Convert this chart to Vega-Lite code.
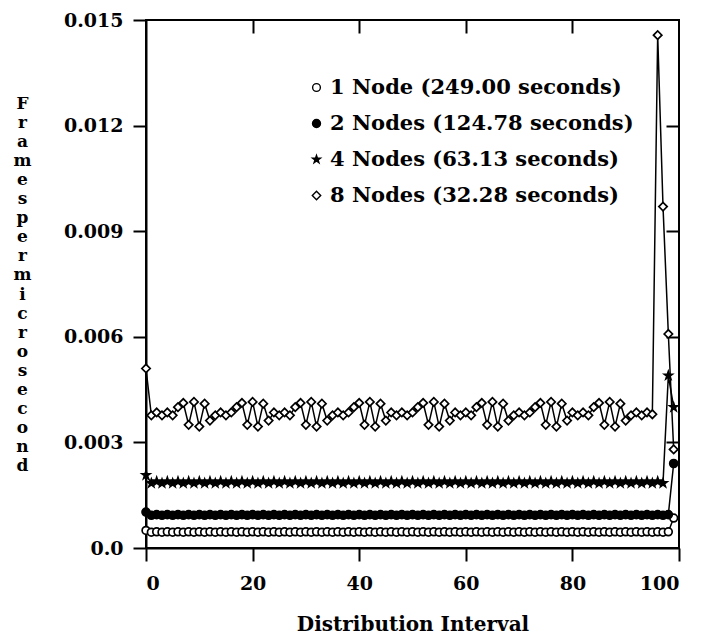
{
"$schema":"https://vega.github.io/schema/vega-lite/v6.json",
"width":533,"height":528,
"autosize":{"type":"none"},
"padding":{"left":146,"top":20,"right":23,"bottom":90},
"background":"white",
"config":{
"view":{"stroke":"black","strokeWidth":2},
"axis":{"labelFont":"DejaVu Serif","labelFontWeight":"bold","labelFontSize":19,"labelColor":"black","titleFont":"DejaVu Serif","titleFontWeight":"bold","titleColor":"black","domainColor":"black","domainWidth":2,"tickColor":"black","tickWidth":2,"grid":false}
},
"datasets":{"d":[
{"s":"1","x":0,"y":0.0005},{"s":"1","x":1,"y":0.00045},{"s":"1","x":2,"y":0.00046},{"s":"1","x":3,"y":0.00045},{"s":"1","x":4,"y":0.00046},{"s":"1","x":5,"y":0.00045},{"s":"1","x":6,"y":0.00046},{"s":"1","x":7,"y":0.00045},{"s":"1","x":8,"y":0.00046},{"s":"1","x":9,"y":0.00045},
{"s":"1","x":10,"y":0.00046},{"s":"1","x":11,"y":0.00045},{"s":"1","x":12,"y":0.00046},{"s":"1","x":13,"y":0.00045},{"s":"1","x":14,"y":0.00046},{"s":"1","x":15,"y":0.00045},{"s":"1","x":16,"y":0.00046},{"s":"1","x":17,"y":0.00045},{"s":"1","x":18,"y":0.00046},{"s":"1","x":19,"y":0.00045},
{"s":"1","x":20,"y":0.00046},{"s":"1","x":21,"y":0.00045},{"s":"1","x":22,"y":0.00046},{"s":"1","x":23,"y":0.00045},{"s":"1","x":24,"y":0.00046},{"s":"1","x":25,"y":0.00045},{"s":"1","x":26,"y":0.00046},{"s":"1","x":27,"y":0.00045},{"s":"1","x":28,"y":0.00046},{"s":"1","x":29,"y":0.00045},
{"s":"1","x":30,"y":0.00046},{"s":"1","x":31,"y":0.00045},{"s":"1","x":32,"y":0.00046},{"s":"1","x":33,"y":0.00045},{"s":"1","x":34,"y":0.00046},{"s":"1","x":35,"y":0.00045},{"s":"1","x":36,"y":0.00046},{"s":"1","x":37,"y":0.00045},{"s":"1","x":38,"y":0.00046},{"s":"1","x":39,"y":0.00045},
{"s":"1","x":40,"y":0.00046},{"s":"1","x":41,"y":0.00045},{"s":"1","x":42,"y":0.00046},{"s":"1","x":43,"y":0.00045},{"s":"1","x":44,"y":0.00046},{"s":"1","x":45,"y":0.00045},{"s":"1","x":46,"y":0.00046},{"s":"1","x":47,"y":0.00045},{"s":"1","x":48,"y":0.00046},{"s":"1","x":49,"y":0.00045},
{"s":"1","x":50,"y":0.00046},{"s":"1","x":51,"y":0.00045},{"s":"1","x":52,"y":0.00046},{"s":"1","x":53,"y":0.00045},{"s":"1","x":54,"y":0.00046},{"s":"1","x":55,"y":0.00045},{"s":"1","x":56,"y":0.00046},{"s":"1","x":57,"y":0.00045},{"s":"1","x":58,"y":0.00046},{"s":"1","x":59,"y":0.00045},
{"s":"1","x":60,"y":0.00046},{"s":"1","x":61,"y":0.00045},{"s":"1","x":62,"y":0.00046},{"s":"1","x":63,"y":0.00045},{"s":"1","x":64,"y":0.00046},{"s":"1","x":65,"y":0.00045},{"s":"1","x":66,"y":0.00046},{"s":"1","x":67,"y":0.00045},{"s":"1","x":68,"y":0.00046},{"s":"1","x":69,"y":0.00045},
{"s":"1","x":70,"y":0.00046},{"s":"1","x":71,"y":0.00045},{"s":"1","x":72,"y":0.00046},{"s":"1","x":73,"y":0.00045},{"s":"1","x":74,"y":0.00046},{"s":"1","x":75,"y":0.00045},{"s":"1","x":76,"y":0.00046},{"s":"1","x":77,"y":0.00045},{"s":"1","x":78,"y":0.00046},{"s":"1","x":79,"y":0.00045},
{"s":"1","x":80,"y":0.00046},{"s":"1","x":81,"y":0.00045},{"s":"1","x":82,"y":0.00046},{"s":"1","x":83,"y":0.00045},{"s":"1","x":84,"y":0.00046},{"s":"1","x":85,"y":0.00045},{"s":"1","x":86,"y":0.00046},{"s":"1","x":87,"y":0.00045},{"s":"1","x":88,"y":0.00046},{"s":"1","x":89,"y":0.00045},
{"s":"1","x":90,"y":0.00046},{"s":"1","x":91,"y":0.00045},{"s":"1","x":92,"y":0.00046},{"s":"1","x":93,"y":0.00045},{"s":"1","x":94,"y":0.00046},{"s":"1","x":95,"y":0.00045},{"s":"1","x":96,"y":0.00046},{"s":"1","x":97,"y":0.00045},{"s":"1","x":98,"y":0.00046},{"s":"1","x":99,"y":0.00085},
{"s":"2","x":0,"y":0.00102},{"s":"2","x":1,"y":0.00093},{"s":"2","x":2,"y":0.00095},{"s":"2","x":3,"y":0.00093},{"s":"2","x":4,"y":0.00095},{"s":"2","x":5,"y":0.00093},{"s":"2","x":6,"y":0.00095},{"s":"2","x":7,"y":0.00093},{"s":"2","x":8,"y":0.00095},{"s":"2","x":9,"y":0.00093},
{"s":"2","x":10,"y":0.00095},{"s":"2","x":11,"y":0.00093},{"s":"2","x":12,"y":0.00095},{"s":"2","x":13,"y":0.00093},{"s":"2","x":14,"y":0.00095},{"s":"2","x":15,"y":0.00093},{"s":"2","x":16,"y":0.00095},{"s":"2","x":17,"y":0.00093},{"s":"2","x":18,"y":0.00095},{"s":"2","x":19,"y":0.00093},
{"s":"2","x":20,"y":0.00095},{"s":"2","x":21,"y":0.00093},{"s":"2","x":22,"y":0.00095},{"s":"2","x":23,"y":0.00093},{"s":"2","x":24,"y":0.00095},{"s":"2","x":25,"y":0.00093},{"s":"2","x":26,"y":0.00095},{"s":"2","x":27,"y":0.00093},{"s":"2","x":28,"y":0.00095},{"s":"2","x":29,"y":0.00093},
{"s":"2","x":30,"y":0.00095},{"s":"2","x":31,"y":0.00093},{"s":"2","x":32,"y":0.00095},{"s":"2","x":33,"y":0.00093},{"s":"2","x":34,"y":0.00095},{"s":"2","x":35,"y":0.00093},{"s":"2","x":36,"y":0.00095},{"s":"2","x":37,"y":0.00093},{"s":"2","x":38,"y":0.00095},{"s":"2","x":39,"y":0.00093},
{"s":"2","x":40,"y":0.00095},{"s":"2","x":41,"y":0.00093},{"s":"2","x":42,"y":0.00095},{"s":"2","x":43,"y":0.00093},{"s":"2","x":44,"y":0.00095},{"s":"2","x":45,"y":0.00093},{"s":"2","x":46,"y":0.00095},{"s":"2","x":47,"y":0.00093},{"s":"2","x":48,"y":0.00095},{"s":"2","x":49,"y":0.00093},
{"s":"2","x":50,"y":0.00095},{"s":"2","x":51,"y":0.00093},{"s":"2","x":52,"y":0.00095},{"s":"2","x":53,"y":0.00093},{"s":"2","x":54,"y":0.00095},{"s":"2","x":55,"y":0.00093},{"s":"2","x":56,"y":0.00095},{"s":"2","x":57,"y":0.00093},{"s":"2","x":58,"y":0.00095},{"s":"2","x":59,"y":0.00093},
{"s":"2","x":60,"y":0.00095},{"s":"2","x":61,"y":0.00093},{"s":"2","x":62,"y":0.00095},{"s":"2","x":63,"y":0.00093},{"s":"2","x":64,"y":0.00095},{"s":"2","x":65,"y":0.00093},{"s":"2","x":66,"y":0.00095},{"s":"2","x":67,"y":0.00093},{"s":"2","x":68,"y":0.00095},{"s":"2","x":69,"y":0.00093},
{"s":"2","x":70,"y":0.00095},{"s":"2","x":71,"y":0.00093},{"s":"2","x":72,"y":0.00095},{"s":"2","x":73,"y":0.00093},{"s":"2","x":74,"y":0.00095},{"s":"2","x":75,"y":0.00093},{"s":"2","x":76,"y":0.00095},{"s":"2","x":77,"y":0.00093},{"s":"2","x":78,"y":0.00095},{"s":"2","x":79,"y":0.00093},
{"s":"2","x":80,"y":0.00095},{"s":"2","x":81,"y":0.00093},{"s":"2","x":82,"y":0.00095},{"s":"2","x":83,"y":0.00093},{"s":"2","x":84,"y":0.00095},{"s":"2","x":85,"y":0.00093},{"s":"2","x":86,"y":0.00095},{"s":"2","x":87,"y":0.00093},{"s":"2","x":88,"y":0.00095},{"s":"2","x":89,"y":0.00093},
{"s":"2","x":90,"y":0.00095},{"s":"2","x":91,"y":0.00093},{"s":"2","x":92,"y":0.00095},{"s":"2","x":93,"y":0.00093},{"s":"2","x":94,"y":0.00095},{"s":"2","x":95,"y":0.00093},{"s":"2","x":96,"y":0.00095},{"s":"2","x":97,"y":0.00093},{"s":"2","x":98,"y":0.00095},{"s":"2","x":99,"y":0.0024},
{"s":"4","x":0,"y":0.00207},{"s":"4","x":1,"y":0.00184},{"s":"4","x":2,"y":0.00189},{"s":"4","x":3,"y":0.00184},{"s":"4","x":4,"y":0.00189},{"s":"4","x":5,"y":0.00184},{"s":"4","x":6,"y":0.00189},{"s":"4","x":7,"y":0.00184},{"s":"4","x":8,"y":0.00189},{"s":"4","x":9,"y":0.00184},
{"s":"4","x":10,"y":0.00189},{"s":"4","x":11,"y":0.00184},{"s":"4","x":12,"y":0.00189},{"s":"4","x":13,"y":0.00184},{"s":"4","x":14,"y":0.00189},{"s":"4","x":15,"y":0.00184},{"s":"4","x":16,"y":0.00189},{"s":"4","x":17,"y":0.00184},{"s":"4","x":18,"y":0.00189},{"s":"4","x":19,"y":0.00184},
{"s":"4","x":20,"y":0.00189},{"s":"4","x":21,"y":0.00184},{"s":"4","x":22,"y":0.00189},{"s":"4","x":23,"y":0.00184},{"s":"4","x":24,"y":0.00189},{"s":"4","x":25,"y":0.00184},{"s":"4","x":26,"y":0.00189},{"s":"4","x":27,"y":0.00184},{"s":"4","x":28,"y":0.00189},{"s":"4","x":29,"y":0.00184},
{"s":"4","x":30,"y":0.00189},{"s":"4","x":31,"y":0.00184},{"s":"4","x":32,"y":0.00189},{"s":"4","x":33,"y":0.00184},{"s":"4","x":34,"y":0.00189},{"s":"4","x":35,"y":0.00184},{"s":"4","x":36,"y":0.00189},{"s":"4","x":37,"y":0.00184},{"s":"4","x":38,"y":0.00189},{"s":"4","x":39,"y":0.00184},
{"s":"4","x":40,"y":0.00189},{"s":"4","x":41,"y":0.00184},{"s":"4","x":42,"y":0.00189},{"s":"4","x":43,"y":0.00184},{"s":"4","x":44,"y":0.00189},{"s":"4","x":45,"y":0.00184},{"s":"4","x":46,"y":0.00189},{"s":"4","x":47,"y":0.00184},{"s":"4","x":48,"y":0.00189},{"s":"4","x":49,"y":0.00184},
{"s":"4","x":50,"y":0.00189},{"s":"4","x":51,"y":0.00184},{"s":"4","x":52,"y":0.00189},{"s":"4","x":53,"y":0.00184},{"s":"4","x":54,"y":0.00189},{"s":"4","x":55,"y":0.00184},{"s":"4","x":56,"y":0.00189},{"s":"4","x":57,"y":0.00184},{"s":"4","x":58,"y":0.00189},{"s":"4","x":59,"y":0.00184},
{"s":"4","x":60,"y":0.00189},{"s":"4","x":61,"y":0.00184},{"s":"4","x":62,"y":0.00189},{"s":"4","x":63,"y":0.00184},{"s":"4","x":64,"y":0.00189},{"s":"4","x":65,"y":0.00184},{"s":"4","x":66,"y":0.00189},{"s":"4","x":67,"y":0.00184},{"s":"4","x":68,"y":0.00189},{"s":"4","x":69,"y":0.00184},
{"s":"4","x":70,"y":0.00189},{"s":"4","x":71,"y":0.00184},{"s":"4","x":72,"y":0.00189},{"s":"4","x":73,"y":0.00184},{"s":"4","x":74,"y":0.00189},{"s":"4","x":75,"y":0.00184},{"s":"4","x":76,"y":0.00189},{"s":"4","x":77,"y":0.00184},{"s":"4","x":78,"y":0.00189},{"s":"4","x":79,"y":0.00184},
{"s":"4","x":80,"y":0.00189},{"s":"4","x":81,"y":0.00184},{"s":"4","x":82,"y":0.00189},{"s":"4","x":83,"y":0.00184},{"s":"4","x":84,"y":0.00189},{"s":"4","x":85,"y":0.00184},{"s":"4","x":86,"y":0.00189},{"s":"4","x":87,"y":0.00184},{"s":"4","x":88,"y":0.00189},{"s":"4","x":89,"y":0.00184},
{"s":"4","x":90,"y":0.00189},{"s":"4","x":91,"y":0.00184},{"s":"4","x":92,"y":0.00189},{"s":"4","x":93,"y":0.00184},{"s":"4","x":94,"y":0.00189},{"s":"4","x":95,"y":0.00184},{"s":"4","x":96,"y":0.00189},{"s":"4","x":97,"y":0.00184},{"s":"4","x":98,"y":0.0049},{"s":"4","x":99,"y":0.004},
{"s":"8","x":0,"y":0.0051},{"s":"8","x":1,"y":0.00377},{"s":"8","x":2,"y":0.00385},{"s":"8","x":3,"y":0.00377},{"s":"8","x":4,"y":0.00385},{"s":"8","x":5,"y":0.00377},{"s":"8","x":6,"y":0.004},{"s":"8","x":7,"y":0.00412},{"s":"8","x":8,"y":0.0035},{"s":"8","x":9,"y":0.00415},
{"s":"8","x":10,"y":0.00345},{"s":"8","x":11,"y":0.0041},{"s":"8","x":12,"y":0.00362},{"s":"8","x":13,"y":0.00377},{"s":"8","x":14,"y":0.00385},{"s":"8","x":15,"y":0.00377},{"s":"8","x":16,"y":0.00385},{"s":"8","x":17,"y":0.004},{"s":"8","x":18,"y":0.00412},{"s":"8","x":19,"y":0.0035},
{"s":"8","x":20,"y":0.00415},{"s":"8","x":21,"y":0.00345},{"s":"8","x":22,"y":0.0041},{"s":"8","x":23,"y":0.00362},{"s":"8","x":24,"y":0.00385},{"s":"8","x":25,"y":0.00377},{"s":"8","x":26,"y":0.00385},{"s":"8","x":27,"y":0.00377},{"s":"8","x":28,"y":0.004},{"s":"8","x":29,"y":0.00412},
{"s":"8","x":30,"y":0.0035},{"s":"8","x":31,"y":0.00415},{"s":"8","x":32,"y":0.00345},{"s":"8","x":33,"y":0.0041},{"s":"8","x":34,"y":0.00362},{"s":"8","x":35,"y":0.00377},{"s":"8","x":36,"y":0.00385},{"s":"8","x":37,"y":0.00377},{"s":"8","x":38,"y":0.00385},{"s":"8","x":39,"y":0.004},
{"s":"8","x":40,"y":0.00412},{"s":"8","x":41,"y":0.0035},{"s":"8","x":42,"y":0.00415},{"s":"8","x":43,"y":0.00345},{"s":"8","x":44,"y":0.0041},{"s":"8","x":45,"y":0.00362},{"s":"8","x":46,"y":0.00385},{"s":"8","x":47,"y":0.00377},{"s":"8","x":48,"y":0.00385},{"s":"8","x":49,"y":0.00377},
{"s":"8","x":50,"y":0.00385},{"s":"8","x":51,"y":0.004},{"s":"8","x":52,"y":0.00412},{"s":"8","x":53,"y":0.0035},{"s":"8","x":54,"y":0.00415},{"s":"8","x":55,"y":0.00345},{"s":"8","x":56,"y":0.0041},{"s":"8","x":57,"y":0.00362},{"s":"8","x":58,"y":0.00385},{"s":"8","x":59,"y":0.00377},
{"s":"8","x":60,"y":0.00385},{"s":"8","x":61,"y":0.00377},{"s":"8","x":62,"y":0.004},{"s":"8","x":63,"y":0.00412},{"s":"8","x":64,"y":0.0035},{"s":"8","x":65,"y":0.00415},{"s":"8","x":66,"y":0.00345},{"s":"8","x":67,"y":0.0041},{"s":"8","x":68,"y":0.00362},{"s":"8","x":69,"y":0.00377},
{"s":"8","x":70,"y":0.00385},{"s":"8","x":71,"y":0.00377},{"s":"8","x":72,"y":0.00385},{"s":"8","x":73,"y":0.004},{"s":"8","x":74,"y":0.00412},{"s":"8","x":75,"y":0.0035},{"s":"8","x":76,"y":0.00415},{"s":"8","x":77,"y":0.00345},{"s":"8","x":78,"y":0.0041},{"s":"8","x":79,"y":0.00362},
{"s":"8","x":80,"y":0.00385},{"s":"8","x":81,"y":0.00377},{"s":"8","x":82,"y":0.00385},{"s":"8","x":83,"y":0.00377},{"s":"8","x":84,"y":0.004},{"s":"8","x":85,"y":0.00412},{"s":"8","x":86,"y":0.0035},{"s":"8","x":87,"y":0.00415},{"s":"8","x":88,"y":0.00345},{"s":"8","x":89,"y":0.0041},
{"s":"8","x":90,"y":0.00362},{"s":"8","x":91,"y":0.00377},{"s":"8","x":92,"y":0.00385},{"s":"8","x":93,"y":0.00377},{"s":"8","x":94,"y":0.00385},{"s":"8","x":95,"y":0.0038},{"s":"8","x":96,"y":0.01457},{"s":"8","x":97,"y":0.0097},{"s":"8","x":98,"y":0.00608},{"s":"8","x":99,"y":0.0028}
]},
"data":{"name":"d"},
"layer":[
{"mark":{"type":"line","color":"black","strokeWidth":1.5},
"encoding":{
"x":{"field":"x","type":"quantitative","scale":{"domain":[0,100],"nice":false,"zero":false},"axis":{"orient":"bottom","values":[0,20,40,60,80,100],"tickSize":13,"labelPadding":13,"title":"Distribution Interval","titleFontSize":20,"titleY":82,"titleBaseline":"alphabetic"}},
"y":{"field":"y","type":"quantitative","scale":{"domain":[0,0.015],"nice":false},"axis":{"orient":"left","values":[0,0.003,0.006,0.009,0.012,0.015],"labelExpr":"datum.value == 0 ? '0.0' : format(datum.value, '.3f')","tickSize":13,"labelPadding":10,"title":["F","r","a","m","e","s","p","e","r","m","i","c","r","o","s","e","c","o","n","d"],"titleAngle":0,"titleX":-124,"titleY":75,"titleAlign":"center","titleBaseline":"top","titleFontSize":17,"titleLineHeight":19.1}},
"detail":{"field":"s","type":"nominal"}
}},
{"mark":{"type":"point","filled":true,"stroke":"black","strokeWidth":1.7,"opacity":1},
"encoding":{
"x":{"field":"x","type":"quantitative","scale":{"domain":[0,100],"nice":false,"zero":false},"axis":{"orient":"top","values":[20,40,60,80],"tickSize":-13,"labels":false,"domain":false,"title":null}},
"y":{"field":"y","type":"quantitative","scale":{"domain":[0,0.015],"nice":false},"axis":{"orient":"right","values":[0.003,0.006,0.009,0.012],"tickSize":-13,"labels":false,"domain":false,"title":null}},
"shape":{"field":"s","type":"nominal","scale":{"domain":["1","2","4","8"],"range":["circle","circle","M0,-1L0.24,-0.31L0.95,-0.31L0.38,0.12L0.59,0.81L0,0.38L-0.59,0.81L-0.38,0.12L-0.95,-0.31L-0.24,-0.31Z","diamond"]},
 "legend":{"title":null,"orient":"none","legendX":160,"legendY":57,"padding":0,"rowPadding":14,"labelFont":"DejaVu Serif","labelFontWeight":"bold","labelFontSize":21,"labelColor":"black","labelOffset":3,"labelLimit":0,"symbolStrokeColor":"black","symbolStrokeWidth":1.4,"labelExpr":"datum.label == '1' ? '1 Node (249.00 seconds)' : datum.label == '2' ? '2 Nodes (124.78 seconds)' : datum.label == '4' ? '4 Nodes (63.13 seconds)' : '8 Nodes (32.28 seconds)'"}},
"fill":{"field":"s","type":"nominal","scale":{"domain":["1","2","4","8"],"range":["white","black","black","white"]}},
"size":{"field":"s","type":"nominal","scale":{"domain":["1","2","4","8"],"range":[60,70,150,150]}}
}}
],
"resolve":{"axis":{"x":"independent","y":"independent"}}
}
